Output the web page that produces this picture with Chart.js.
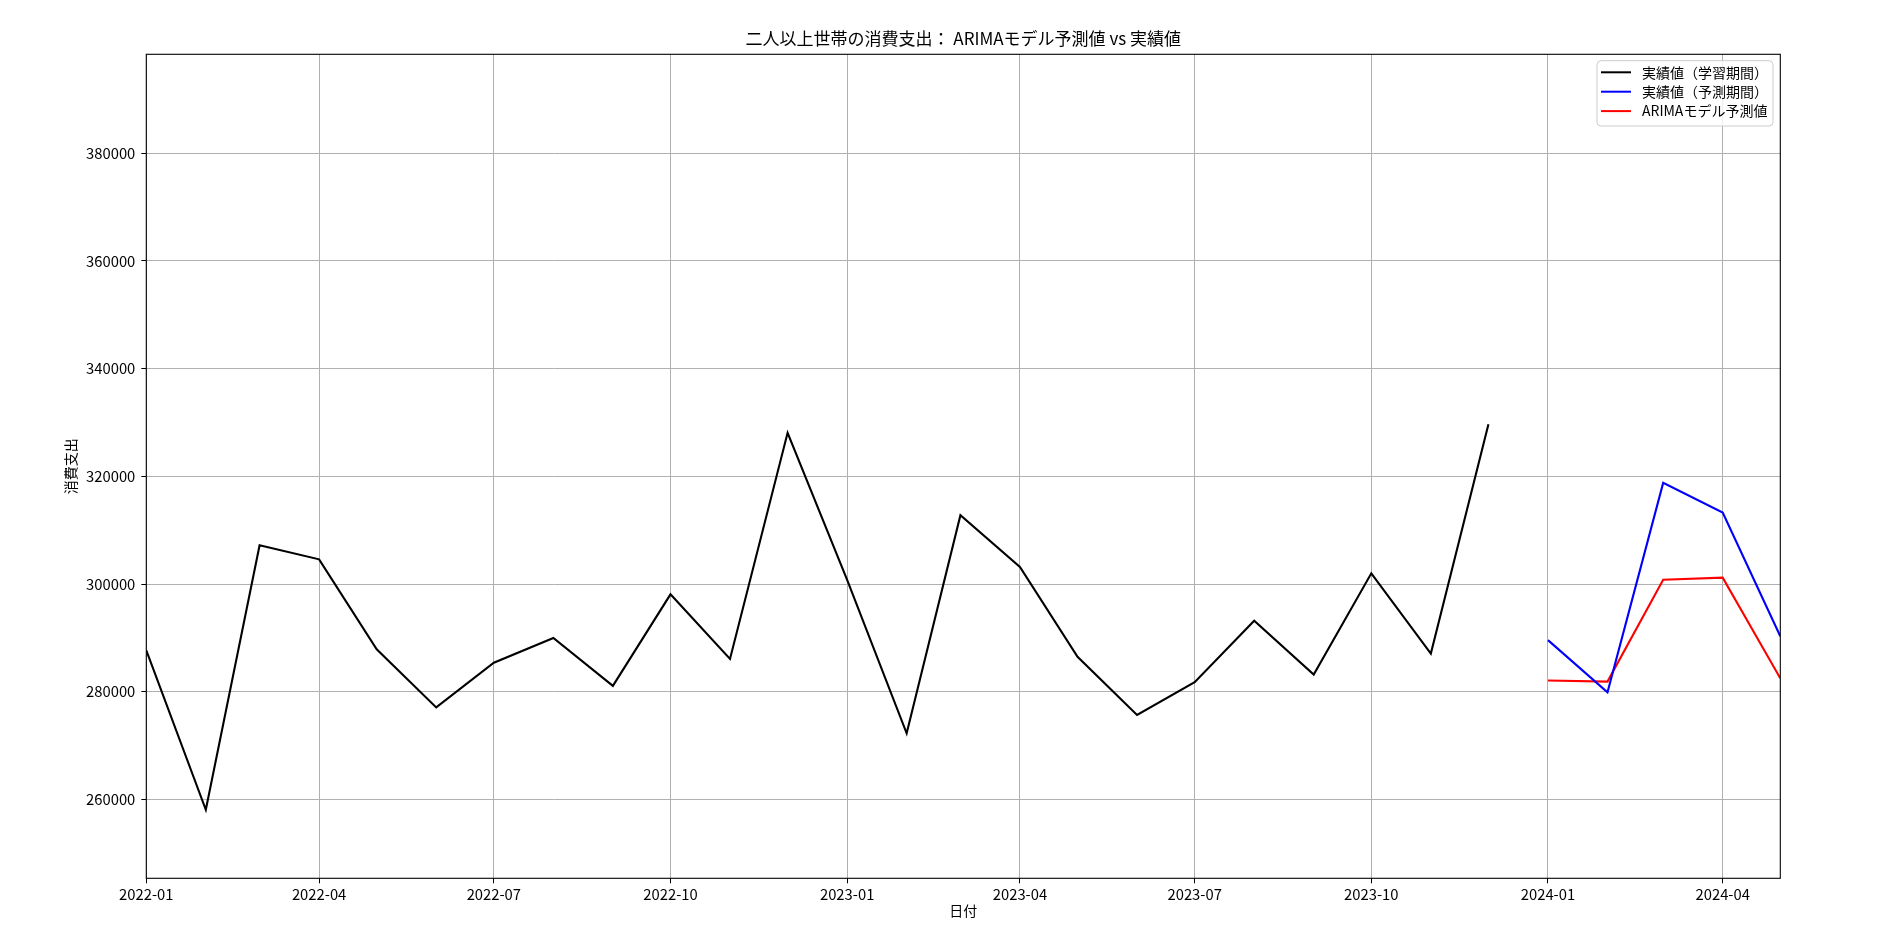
<!DOCTYPE html>
<html><head><meta charset="utf-8">
<script src="https://cdn.jsdelivr.net/npm/chart.js@4.4.1/dist/chart.umd.min.js"></script>
<style>html,body{margin:0;padding:0;background:#fff;}#wrap{width:1890px;height:950px;}</style>
</head><body><div id="wrap"><canvas id="c" width="1890" height="950"></canvas></div>
<script>
// ---- data ----
const trainMonths = ['2022-01','2022-02','2022-03','2022-04','2022-05','2022-06','2022-07','2022-08','2022-09','2022-10','2022-11','2022-12',
                     '2023-01','2023-02','2023-03','2023-04','2023-05','2023-06','2023-07','2023-08','2023-09','2023-10','2023-11','2023-12'];
const trainValues = [287700, 258100, 307200, 304600, 287900, 277100, 285400, 290000, 281100, 298100, 286100, 328100,
                     300800, 272300, 312800, 303200, 286500, 275700, 281800, 293200, 283200, 302000, 287100, 329700];
const testMonths = ['2024-01','2024-02','2024-03','2024-04','2024-05'];
const testValues = [289600, 279900, 318800, 313300, 290300];
const forecastValues = [282100, 281900, 300800, 301200, 282500];
const xTickLabels = ['2022-01','2022-04','2022-07','2022-10','2023-01','2023-04','2023-07','2023-10','2024-01','2024-04'];
const yTickValues = [260000, 280000, 300000, 320000, 340000, 360000, 380000];
const seriesLabels = ['実績値（学習期間）', '実績値（予測期間）', 'ARIMAモデル予測値'];
const seriesColors = ['#000000', '#0000ff', '#ff0000'];
const titleText = '二人以上世帯の消費支出： ARIMAモデル予測値 vs 実績値';
const xTitle = '日付';
const yTitle = '消費支出';
const xStart = '2022-01', xEnd = '2024-05';
const yMin = 245370, yMax = 398380;

const FONT = '"Noto Sans CJK JP", "Noto Sans", sans-serif';
function dayIndex(ym) {
  const [y, m] = ym.split('-').map(Number);
  return (Date.UTC(y, m - 1, 1) - Date.UTC(2022, 0, 1)) / 86400000;
}
const pts = (months, vals) => months.map((m, i) => ({x: dayIndex(m), y: vals[i]}));
const labelByDay = {};
xTickLabels.forEach(l => { labelByDay[dayIndex(l)] = l; });

const CA = {left: 146.3, right: 1780.3, top: 54.3, bottom: 878.3};

const decor = {
  id: 'decor',
  afterDatasetsDraw(chart) {
    const ctx = chart.ctx, a = chart.chartArea;
    ctx.save();
    ctx.strokeStyle = '#000'; ctx.lineWidth = 1.1;
    ctx.strokeRect(a.left, a.top, a.right - a.left, a.bottom - a.top);
    // title
    ctx.fillStyle = '#000';
    ctx.font = '17px ' + FONT;
    ctx.textAlign = 'center'; ctx.textBaseline = 'alphabetic';
    ctx.fillText(titleText, (a.left + a.right) / 2, 45);
    // legend
    const bx = 1597, by = 60.7, bw = 176, bh = 65.3;
    ctx.beginPath();
    ctx.roundRect(bx, by, bw, bh, 4);
    ctx.fillStyle = 'rgba(255,255,255,0.8)'; ctx.fill();
    ctx.strokeStyle = '#cccccc'; ctx.lineWidth = 1; ctx.stroke();
    ctx.font = '14px ' + FONT;
    ctx.textAlign = 'left'; ctx.textBaseline = 'middle';
    chart.data.datasets.forEach((ds, i) => {
      const y = 72.3 + i * 19.4;
      ctx.beginPath(); ctx.moveTo(1601, y); ctx.lineTo(1631, y);
      ctx.strokeStyle = ds.borderColor; ctx.lineWidth = 2; ctx.stroke();
      ctx.fillStyle = '#000';
      ctx.fillText(ds.label, 1642, y);
    });
    ctx.restore();
  }
};

new Chart(document.getElementById('c'), {
  type: 'line',
  data: {
    datasets: [
      {label: seriesLabels[0], data: pts(trainMonths, trainValues), borderColor: seriesColors[0]},
      {label: seriesLabels[1], data: pts(testMonths, testValues), borderColor: seriesColors[1]},
      {label: seriesLabels[2], data: pts(testMonths, forecastValues), borderColor: seriesColors[2]}
    ].map(d => Object.assign(d, {borderWidth: 2.1, pointRadius: 0, tension: 0, fill: false}))
  },
  options: {
    responsive: false, animation: false, devicePixelRatio: 1,
    layout: {padding: {left: 0, right: 1890 - CA.right, top: CA.top, bottom: 0}},
    plugins: {legend: {display: false}, tooltip: {enabled: false}, title: {display: false}},
    scales: {
      x: {
        type: 'linear', min: dayIndex(xStart), max: dayIndex(xEnd),
        afterBuildTicks: s => { s.ticks = xTickLabels.map(l => ({value: dayIndex(l)})); },
        afterFit: s => { s.height = 950 - CA.bottom; },
        ticks: {autoSkip: false, maxRotation: 0, color: '#000', font: {family: FONT, size: 14.8}, padding: 2.5,
                callback: v => labelByDay[v] || ''},
        grid: {color: '#b0b0b0', lineWidth: 1, tickColor: '#000', tickLength: 5, tickWidth: 1},
        border: {display: false},
        title: {display: true, text: xTitle, color: '#000', font: {family: FONT, size: 14}, padding: {top: 0, bottom: 31}}
      },
      y: {
        type: 'linear', min: yMin, max: yMax,
        afterBuildTicks: s => { s.ticks = yTickValues.map(v => ({value: v})); },
        afterFit: s => { s.width = CA.left; },
        ticks: {color: '#000', font: {family: FONT, size: 14.8}, padding: 6, callback: v => String(v)},
        grid: {color: '#b0b0b0', lineWidth: 1, tickColor: '#000', tickLength: 5, tickWidth: 1},
        border: {display: false},
        title: {display: true, text: yTitle, color: '#000', font: {family: FONT, size: 14}, padding: {top: 62, bottom: 0}}
      }
    }
  },
  plugins: [decor]
});
</script></body></html>
